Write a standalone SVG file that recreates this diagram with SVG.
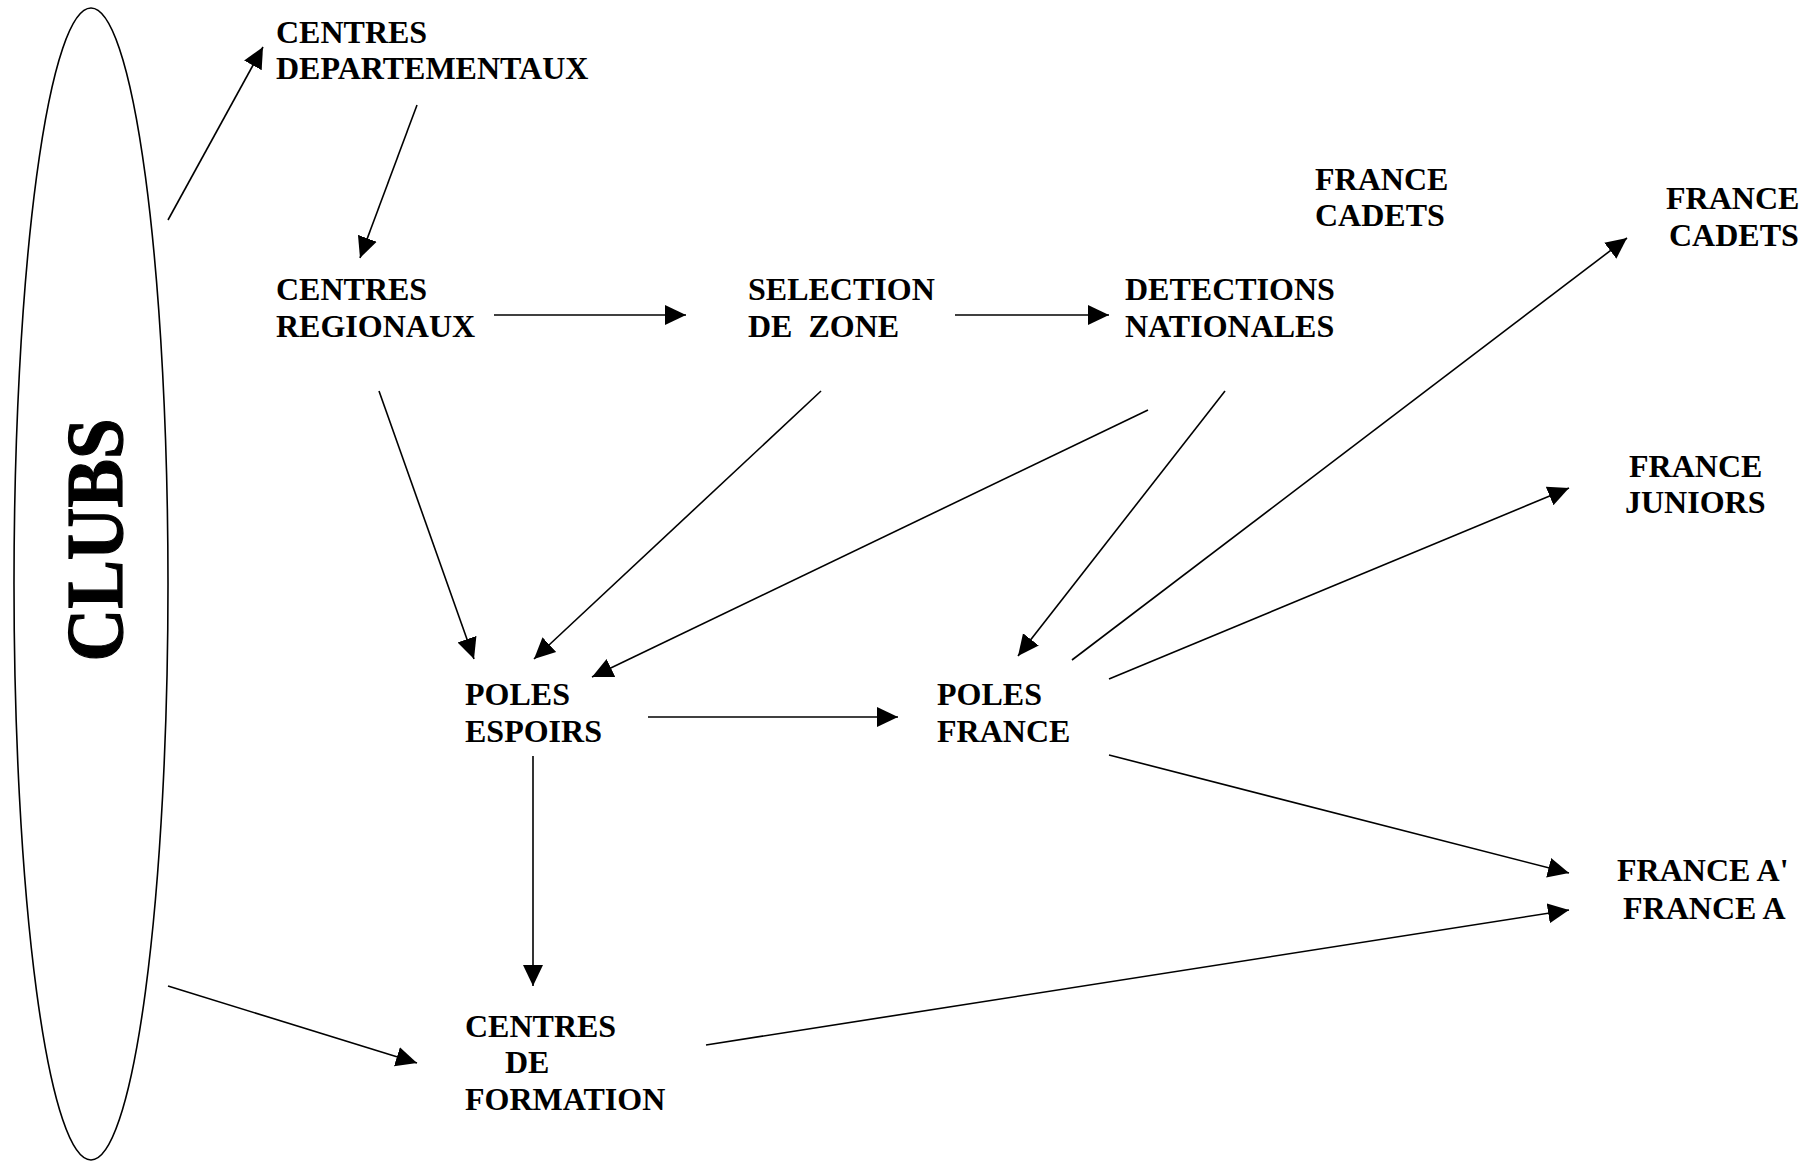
<svg xmlns="http://www.w3.org/2000/svg" width="1813" height="1162" viewBox="0 0 1813 1162">
<style>
.t{font-family:"Liberation Serif","Times New Roman",serif;font-weight:bold;font-size:32px;fill:#000}
.c{stroke:#000;stroke-width:1.6;fill:none}
</style>
<defs>
<marker id="ah" markerUnits="userSpaceOnUse" markerWidth="22" markerHeight="22" refX="21" refY="10" orient="auto" viewBox="0 0 22 20">
<path d="M0,0 L21,10 L0,20 z" fill="#000"/>
</marker>
</defs>
<rect width="1813" height="1162" fill="#fff"/>
<g id="clubs">
<ellipse cx="91" cy="584" rx="77" ry="576" fill="none" stroke="#000" stroke-width="1.6"/>
<text transform="translate(122,540) rotate(-90)" text-anchor="middle" style="font-family:'Liberation Serif','Times New Roman',serif;font-weight:bold;font-size:80px" stroke="#000" stroke-width="1.2" textLength="243" lengthAdjust="spacingAndGlyphs">CLUBS</text>
</g>
<g id="centres-dept"><text class="t" x="276" y="43">CENTRES</text><text class="t" x="276" y="79">DEPARTEMENTAUX</text></g>
<g id="centres-reg"><text class="t" x="276" y="300">CENTRES</text><text class="t" x="276" y="337">REGIONAUX</text></g>
<g id="selection"><text class="t" x="748" y="300">SELECTION</text><text class="t" x="748" y="337" style="white-space:pre">DE  ZONE</text></g>
<g id="detections"><text class="t" x="1125" y="300">DETECTIONS</text><text class="t" x="1125" y="337">NATIONALES</text></g>
<g id="france-cadets-1"><text class="t" x="1315" y="190">FRANCE</text><text class="t" x="1315" y="226">CADETS</text></g>
<g id="france-cadets-2"><text class="t" x="1666" y="209">FRANCE</text><text class="t" x="1669" y="246">CADETS</text></g>
<g id="france-juniors"><text class="t" x="1629" y="477">FRANCE</text><text class="t" x="1625" y="513">JUNIORS</text></g>
<g id="poles-espoirs"><text class="t" x="465" y="705">POLES</text><text class="t" x="465" y="742">ESPOIRS</text></g>
<g id="poles-france"><text class="t" x="937" y="705">POLES</text><text class="t" x="937" y="742">FRANCE</text></g>
<g id="france-a"><text class="t" x="1617" y="881">FRANCE A'</text><text class="t" x="1623" y="919">FRANCE A</text></g>
<g id="centres-formation"><text class="t" x="465" y="1037">CENTRES</text><text class="t" x="505" y="1073">DE</text><text class="t" x="465" y="1110">FORMATION</text></g>
<g id="connectors" class="c">
<line x1="168" y1="220" x2="263" y2="47" marker-end="url(#ah)"/>
<line x1="417" y1="105" x2="360" y2="258" marker-end="url(#ah)"/>
<line x1="494" y1="315" x2="686" y2="315" marker-end="url(#ah)"/>
<line x1="955" y1="315" x2="1109" y2="315" marker-end="url(#ah)"/>
<line x1="379" y1="391" x2="474" y2="659" marker-end="url(#ah)"/>
<line x1="821" y1="391" x2="534" y2="659" marker-end="url(#ah)"/>
<line x1="1148" y1="410" x2="592" y2="677" marker-end="url(#ah)"/>
<line x1="1225" y1="391" x2="1018" y2="656" marker-end="url(#ah)"/>
<line x1="1072" y1="660" x2="1627" y2="238" marker-end="url(#ah)"/>
<line x1="1109" y1="679" x2="1569" y2="488" marker-end="url(#ah)"/>
<line x1="648" y1="717" x2="898" y2="717" marker-end="url(#ah)"/>
<line x1="1109" y1="755" x2="1569" y2="873" marker-end="url(#ah)"/>
<line x1="533" y1="756" x2="533" y2="986" marker-end="url(#ah)"/>
<line x1="168" y1="986" x2="417" y2="1063" marker-end="url(#ah)"/>
<line x1="706" y1="1045" x2="1569" y2="910" marker-end="url(#ah)"/>
</g>
</svg>
